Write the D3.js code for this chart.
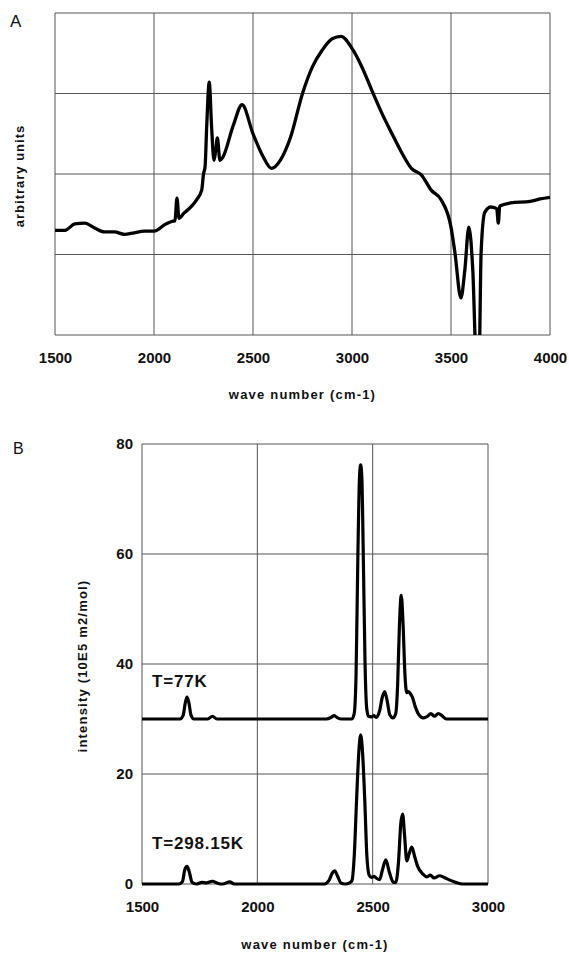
<!DOCTYPE html>
<html>
<head>
<meta charset="utf-8">
<script src="https://cdn.jsdelivr.net/npm/d3@7/dist/d3.min.js"></script>
<style>
body { margin: 0; background: #fff; }
text { font-family: "Liberation Sans", Arial, sans-serif; fill: #111; }
</style>
</head>
<body>
<svg id="chart"></svg>
<script>
// panel A: IR spectrum, arbitrary units
const specA_wn = [1500,1550,1600,1650,1700,1750,1800,1850,1900,1950,2000,2060,2090,2106,2116,2126,2150,2190,2215,2241,2250,2258,2266,2279,2291,2303,2312,2320,2333,2348,2400,2445,2500,2550,2593,2640,2690,2750,2800,2850,2900,2945,3000,3050,3100,3150,3200,3250,3300,3350,3400,3450,3500,3520,3550,3570,3590,3610,3628,3642,3652,3670,3700,3731,3739,3746,3800,3900,3950,4000];
const specA_val = [1.30,1.30,1.38,1.39,1.33,1.28,1.28,1.25,1.27,1.29,1.29,1.38,1.41,1.42,1.70,1.45,1.51,1.60,1.68,1.80,2.00,2.09,2.58,3.14,2.58,2.17,2.30,2.45,2.17,2.21,2.60,2.86,2.50,2.22,2.07,2.18,2.46,3.00,3.33,3.54,3.68,3.71,3.56,3.33,3.04,2.76,2.51,2.27,2.07,1.99,1.80,1.68,1.34,1.02,0.46,0.81,1.34,0.81,-0.3,-0.3,1.02,1.52,1.59,1.57,1.39,1.60,1.64,1.66,1.69,1.71];

// panel B: two temperatures
const t77_wn = [1500,1665,1678,1688,1695,1703,1713,1725,1785,1805,1825,2300,2320,2333,2348,2365,2410,2420,2428,2436,2443,2448,2453,2460,2467,2474,2482,2495,2505,2515,2530,2542,2552,2562,2574,2588,2600,2608,2616,2624,2632,2640,2648,2655,2662,2672,2685,2700,2720,2738,2752,2768,2785,2800,2820,3000];
const t77_val = [30,30,30.6,33,34,33,30.6,30,30,30.5,30,30,30.3,30.6,30.2,30,30,31,38,60,74,76.2,74,58,40,32,30.5,30.4,30.6,30.3,31.5,34,35,33.5,30.8,30.2,31,36,47,52.5,47,38,34.8,35,34.7,34,32.2,30.8,30.2,30.5,31,30.5,31,30.6,30,30];
const t298_wn = [1500,1660,1675,1685,1695,1705,1717,1735,1760,1780,1805,1830,1850,1880,1900,2290,2310,2325,2335,2348,2362,2380,2400,2410,2420,2430,2440,2448,2456,2466,2475,2485,2495,2506,2518,2530,2542,2557,2572,2590,2600,2612,2622,2630,2638,2648,2658,2670,2682,2696,2718,2735,2750,2766,2790,2810,2835,2860,2890,3000];
const t298_val = [0,0,0.4,2.5,3.2,2.2,0.3,0,0.3,0.2,0.5,0.1,0,0.4,0,0,0.6,2.0,2.4,1.4,0.2,0,0.2,0.6,5,15,24,27.1,24,15,5,1.6,1.2,1.4,1.0,0.8,2.5,4.4,2.2,0.3,0.3,4,11,12.7,9,4.2,5.5,6.7,5,3.1,1.8,1.3,1.6,1.1,1.5,1.2,0.7,0.3,0,0];

const ticksA_x = [1500,2000,2500,3000,3500,4000];
const gridA_y = [1,2,3];
const ticksB_x = [1500,2000,2500,3000];
const ticksB_y = [0,20,40,60,80];
const labelsB = ["T=77K","T=298.15K"];

const width = 569, height = 953;

const svg = d3.select('#chart')
    .attr('width', width)
    .attr('height', height)
    .style('display', 'block');

svg.append('rect').attr('width', width).attr('height', height).attr('fill', '#fff');

const toPts = (xs, ys) => xs.map((x, i) => [x, ys[i]]);
const styleTicks = sel => sel.selectAll('text')
    .attr('font-size', 15).attr('font-weight', 'bold')
    .attr('font-family', '"Liberation Sans", Arial, sans-serif').attr('fill', '#111');

// ---------- panel A ----------
const xA = d3.scaleLinear().domain([1500, 4000]).range([55, 550]);
const yA = d3.scaleLinear().domain([0, 4]).range([335, 13]);

svg.append('clipPath').attr('id', 'clipA')
    .append('rect')
    .attr('x', xA(1500)).attr('y', yA(4))
    .attr('width', xA(4000) - xA(1500)).attr('height', yA(0) - yA(4));

const gA = svg.append('g');

gA.selectAll('.vgridA')
    .data(ticksA_x)
    .enter()
    .append('line')
    .attr('x1', d => xA(d)).attr('x2', d => xA(d))
    .attr('y1', yA(4)).attr('y2', yA(0))
    .attr('stroke', '#555').attr('stroke-width', 1);

gA.selectAll('.hgridA')
    .data([0].concat(gridA_y, [4]))
    .enter()
    .append('line')
    .attr('x1', xA(1500)).attr('x2', xA(4000))
    .attr('y1', d => yA(d)).attr('y2', d => yA(d))
    .attr('stroke', '#555').attr('stroke-width', 1);

gA.append('g')
    .attr('transform', `translate(0,${yA(0)})`)
    .call(d3.axisBottom(xA).tickValues(ticksA_x).tickFormat(d3.format('d')).tickSize(0).tickPadding(17))
    .call(g => g.select('.domain').remove())
    .call(styleTicks);

gA.append('path')
    .datum(toPts(specA_wn, specA_val))
    .attr('clip-path', 'url(#clipA)')
    .attr('fill', 'none')
    .attr('stroke', '#000')
    .attr('stroke-width', 3.3)
    .attr('stroke-linejoin', 'round')
    .attr('d', d3.line().x(d => xA(d[0])).y(d => yA(d[1])).curve(d3.curveMonotoneX));

svg.append('text')
    .attr('x', 10).attr('y', 27)
    .attr('font-size', 17)
    .text('A');

svg.append('text')
    .attr('transform', `translate(24,${(yA(0) + yA(4)) / 2 + 2}) rotate(-90)`)
    .attr('text-anchor', 'middle')
    .attr('font-size', 13).attr('font-weight', 'bold')
    .attr('letter-spacing', 1)
    .text('arbitrary units');

svg.append('text')
    .attr('x', (xA(1500) + xA(4000)) / 2).attr('y', 399)
    .attr('text-anchor', 'middle')
    .attr('font-size', 13).attr('font-weight', 'bold')
    .attr('letter-spacing', 1.2)
    .text('wave number (cm-1)');

// ---------- panel B ----------
const xB = d3.scaleLinear().domain([1500, 3000]).range([142, 488]);
const yB = d3.scaleLinear().domain([0, 80]).range([884, 444]);

svg.append('clipPath').attr('id', 'clipB')
    .append('rect')
    .attr('x', xB(1500)).attr('y', yB(80) - 5)
    .attr('width', xB(3000) - xB(1500)).attr('height', yB(0) - yB(80) + 8);

const gB = svg.append('g');

gB.selectAll('.vgridB')
    .data(ticksB_x)
    .enter()
    .append('line')
    .attr('x1', d => xB(d)).attr('x2', d => xB(d))
    .attr('y1', yB(80)).attr('y2', yB(0))
    .attr('stroke', '#555').attr('stroke-width', 1);

gB.selectAll('.hgridB')
    .data(ticksB_y)
    .enter()
    .append('line')
    .attr('x1', xB(1500)).attr('x2', xB(3000))
    .attr('y1', d => yB(d)).attr('y2', d => yB(d))
    .attr('stroke', '#555').attr('stroke-width', 1);

gB.append('g')
    .attr('transform', `translate(0,${yB(0)})`)
    .call(d3.axisBottom(xB).tickValues(ticksB_x).tickFormat(d3.format('d')).tickSize(0).tickPadding(17))
    .call(g => g.select('.domain').remove())
    .call(styleTicks);

gB.append('g')
    .attr('transform', `translate(${xB(1500)},0)`)
    .call(d3.axisLeft(yB).tickValues(ticksB_y).tickFormat(d3.format('d')).tickSize(0).tickPadding(9))
    .call(g => g.select('.domain').remove())
    .call(styleTicks);

const lineB = d3.line().x(d => xB(d[0])).y(d => yB(d[1])).curve(d3.curveMonotoneX);

gB.selectAll('.specB')
    .data([toPts(t77_wn, t77_val), toPts(t298_wn, t298_val)])
    .enter()
    .append('path')
    .attr('clip-path', 'url(#clipB)')
    .attr('fill', 'none')
    .attr('stroke', '#000')
    .attr('stroke-width', 3.2)
    .attr('stroke-linejoin', 'round')
    .attr('d', lineB);

gB.selectAll('.tlabel')
    .data(labelsB)
    .enter()
    .append('text')
    .attr('x', 152)
    .attr('y', (d, i) => i === 0 ? 687 : 849)
    .attr('font-size', 17).attr('font-weight', 'bold')
    .attr('letter-spacing', 0.8)
    .text(d => d);

svg.append('text')
    .attr('x', 13).attr('y', 454)
    .attr('font-size', 16)
    .text('B');

svg.append('text')
    .attr('transform', `translate(87,666) rotate(-90)`)
    .attr('text-anchor', 'middle')
    .attr('font-size', 13).attr('font-weight', 'bold')
    .attr('letter-spacing', 1.2)
    .text('intensity (10E5 m2/mol)');

svg.append('text')
    .attr('x', (xB(1500) + xB(3000)) / 2).attr('y', 949)
    .attr('text-anchor', 'middle')
    .attr('font-size', 13).attr('font-weight', 'bold')
    .attr('letter-spacing', 1.2)
    .text('wave number (cm-1)');
</script>
</body>
</html>
